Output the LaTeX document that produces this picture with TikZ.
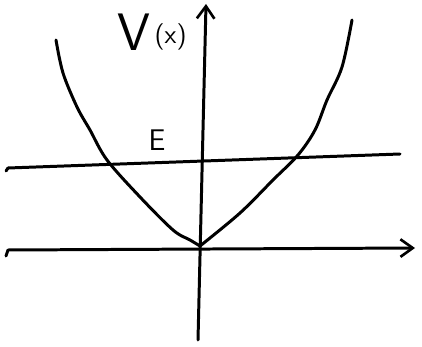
\documentclass[tikz,border=0pt]{standalone}
\usepackage{tikz}
\usetikzlibrary{arrows.meta,positioning}
\tikzset{
  pen/.style={line width=1.7pt, line cap=round, line join=round, draw=black},
  axis/.style={pen, -{Straight Barb[length=7pt,width=10pt,line width=1.5pt]}},
  lbl/.style={inner sep=0pt, font=\sffamily},
}

\begin{document}
\begin{tikzpicture}[x=0.02cm, y=-0.02cm]
  \useasboundingbox (0,0) rectangle (422,347);
  % axes
  \coordinate (yb) at (198,340);
  \coordinate (yt) at (206,4);
  \coordinate (xl) at (8,250);
  \coordinate (xr) at (415,248);
  \draw[axis] (yb) -- (yt);
  \draw[axis] (xl) -- (xr);
  \draw[pen] (xl) -- ++(-2,6);
  % energy level
  \coordinate (el) at (8,168);
  \coordinate (er) at (400,154);
  \draw[pen] (el) -- (er);
  \draw[pen] (el) -- ++(-2,3);
  % potential
  \draw[pen] plot[smooth, tension=0.55] coordinates
    {(56,40) (63,73) (77,107) (90,130) (107,160) (140,197) (173,230) (190,240) (200,246)};
  \draw[pen] plot[smooth, tension=0.55] coordinates
    {(200,246) (240,213) (273,180) (298,155) (315,130) (327,100) (342,67) (352,20)};
  % labels
  \node[lbl, font=\sffamily\fontsize{30}{30}\selectfont] (v) at (134,32) {V};
  \node[lbl, font=\sffamily\fontsize{15}{15}\selectfont, right=2pt of v.south east, anchor=south west] (vx) {(x)};
  \node[lbl, font=\sffamily\fontsize{17}{17}\selectfont] (e) at (157,140) {E};
\end{tikzpicture}
\end{document}
